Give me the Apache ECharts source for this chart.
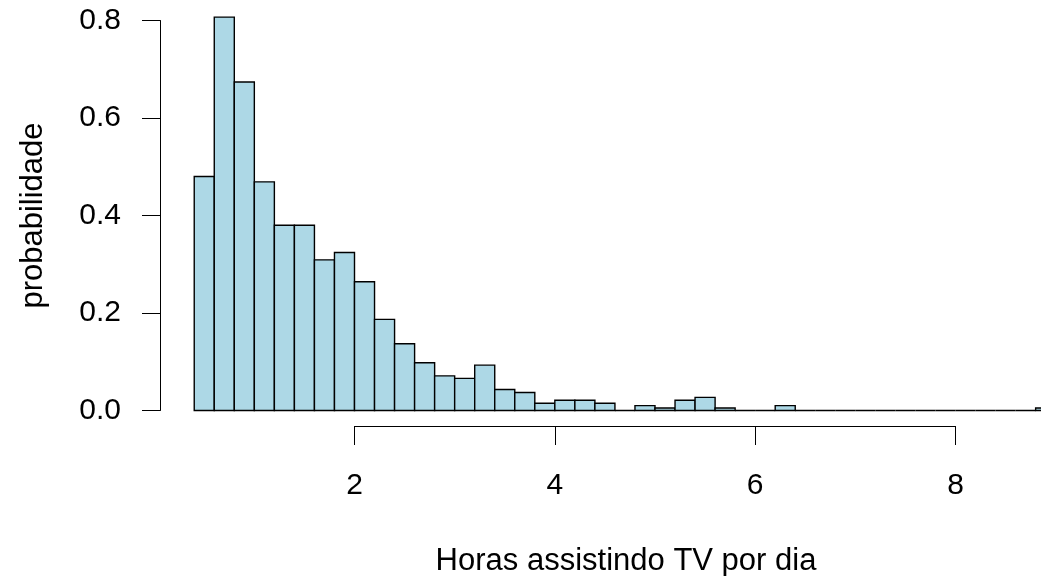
<!DOCTYPE html>
<html>
<head>
<meta charset="utf-8">
<script src="https://cdn.jsdelivr.net/npm/echarts@6/dist/echarts.min.js"></script>
<style>
html,body{margin:0;padding:0;background:#fff;}
#chart{width:1041px;height:576px;}
</style>
</head>
<body>
<div id="chart"></div>
<script>
// Histogram bins (left edges, hours) and densities
const binStarts = [0.4, 0.6, 0.8, 1.0, 1.2, 1.4, 1.6, 1.8, 2.0, 2.2, 2.4, 2.6, 2.8, 3.0, 3.2, 3.4, 3.6, 3.8, 4.0, 4.2, 4.4, 4.6, 4.8, 5.0, 5.2, 5.4, 5.6, 5.8, 6.0, 6.2, 6.4, 6.6, 6.8, 7.0, 7.2, 7.4, 7.6, 7.8, 8.0, 8.2, 8.4, 8.6, 8.8];
const binEnds   = [0.6, 0.8, 1.0, 1.2, 1.4, 1.6, 1.8, 2.0, 2.2, 2.4, 2.6, 2.8, 3.0, 3.2, 3.4, 3.6, 3.8, 4.0, 4.2, 4.4, 4.6, 4.8, 5.0, 5.2, 5.4, 5.6, 5.8, 6.0, 6.2, 6.4, 6.6, 6.8, 7.0, 7.2, 7.4, 7.6, 7.8, 8.0, 8.2, 8.4, 8.6, 8.8, 9.0];
const density   = [0.480, 0.807, 0.674, 0.469, 0.380, 0.380, 0.309, 0.324, 0.264, 0.187, 0.137, 0.098, 0.071, 0.066, 0.093, 0.043, 0.037, 0.015, 0.021, 0.021, 0.015, 0, 0.010, 0.005, 0.021, 0.027, 0.005, 0, 0, 0.010, 0, 0, 0, 0, 0, 0, 0, 0, 0, 0, 0, 0, 0.005];
const xTicks = [2, 4, 6, 8];
const yTicks = [0, 0.2, 0.4, 0.6, 0.8];
const xTitle = 'Horas assistindo TV por dia';
const yTitle = 'probabilidade';

const data = binStarts.map((s, i) => [s, binEnds[i], density[i]]);
const FONT = '"Liberation Sans", Arial, Helvetica, sans-serif';

const chart = echarts.init(document.getElementById('chart'), null, {renderer: 'canvas'});
chart.setOption({
  animation: false,
  backgroundColor: '#ffffff',
  grid: {left: 354.5, right: 85.5, top: 20.5, bottom: 165.5, containLabel: false, outerBoundsMode: 'none'},
  xAxis: {
    type: 'value',
    min: xTicks[0], max: xTicks[xTicks.length - 1], interval: 2,
    offset: 15.5,
    axisLine: {show: true, onZero: false, lineStyle: {color: '#000', width: 1}},
    axisTick: {show: true, length: 19, lineStyle: {color: '#000', width: 1}},
    axisLabel: {color: '#000', fontSize: 30, fontFamily: FONT, margin: 45},
    splitLine: {show: false},
    name: xTitle,
    nameLocation: 'middle',
    nameGap: 120,
    nameTextStyle: {color: '#000', fontSize: 31, fontFamily: FONT, padding: [0, 58, 0, 0]}
  },
  yAxis: {
    type: 'value',
    min: yTicks[0], max: yTicks[yTicks.length - 1], interval: 0.2,
    offset: 194.5,
    axisLine: {show: true, lineStyle: {color: '#000', width: 1}},
    axisTick: {show: true, length: 18, lineStyle: {color: '#000', width: 1}},
    axisLabel: {color: '#000', fontSize: 30, fontFamily: FONT, margin: 39, formatter: v => v.toFixed(1)},
    splitLine: {show: false},
    name: yTitle,
    nameLocation: 'middle',
    nameGap: 111,
    nameRotate: 90,
    nameTextStyle: {color: '#000', fontSize: 31, fontFamily: FONT}
  },
  series: [{
    type: 'custom',
    clip: false,
    data: data,
    encode: {x: [0, 1], y: 2},
    renderItem: function (params, api) {
      const x0 = api.value(0), x1 = api.value(1), y = api.value(2);
      const pTop = api.coord([x0, y]);
      const pBot = api.coord([x1, 0]);
      return {
        type: 'rect',
        shape: {x: pTop[0], y: pTop[1], width: pBot[0] - pTop[0], height: pBot[1] - pTop[1]},
        style: {fill: '#ADD8E6', stroke: '#000', lineWidth: 1.4}
      };
    }
  }]
});
</script>
</body>
</html>
